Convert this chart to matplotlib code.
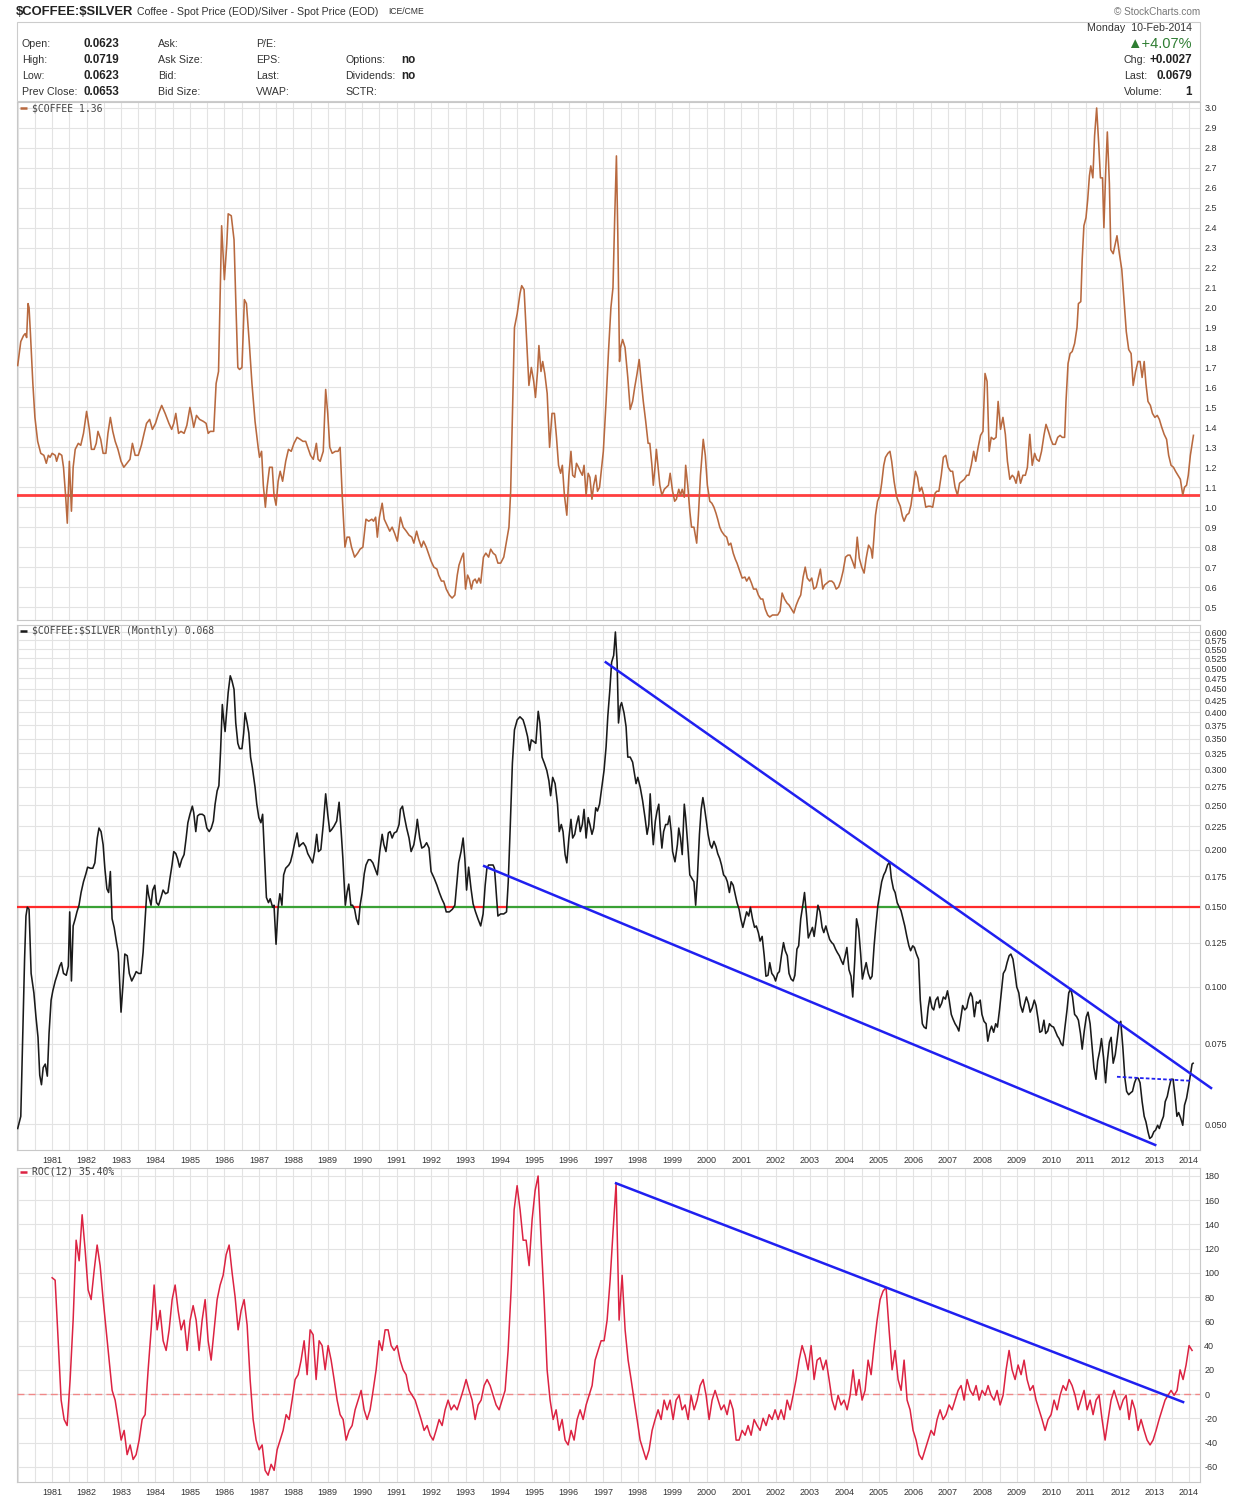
import numpy as np
import matplotlib
matplotlib.use("Agg")
import matplotlib.pyplot as plt
from matplotlib.collections import LineCollection
from matplotlib.patches import Rectangle
from matplotlib.ticker import NullLocator

plt.rcParams["font.family"] = ["Liberation Sans", "DejaVu Sans"]

# ── Data (monthly) ────────────────────────────────────────────────────────────
# $COFFEE spot, (year, price)
COFFEE = [
    (1980.00, 1.71), (1980.09, 1.83), (1980.17, 1.86), (1980.22, 1.87), (1980.26, 1.85), (1980.30, 2.02), (1980.33, 2.00),
    (1980.37, 1.87), (1980.44, 1.62), (1980.50, 1.45), (1980.58, 1.33), (1980.67, 1.27), (1980.76, 1.26), (1980.83, 1.22),
    (1980.89, 1.26), (1980.94, 1.25),
    (1981.00, 1.27), (1981.09, 1.26), (1981.13, 1.23), (1981.20, 1.27), (1981.28, 1.26), (1981.33, 1.20), (1981.39, 1.06),
    (1981.44, 0.92), (1981.50, 1.23), (1981.56, 0.98), (1981.61, 1.20), (1981.67, 1.29), (1981.76, 1.32), (1981.83, 1.31),
    (1981.91, 1.37),
    (1982.00, 1.48), (1982.08, 1.39), (1982.14, 1.29), (1982.22, 1.29), (1982.28, 1.32), (1982.33, 1.38), (1982.41, 1.34),
    (1982.48, 1.27), (1982.56, 1.27), (1982.62, 1.37), (1982.69, 1.45), (1982.76, 1.38), (1982.83, 1.33), (1982.91, 1.29),
    (1983.00, 1.23), (1983.08, 1.20), (1983.17, 1.22), (1983.26, 1.24), (1983.33, 1.32), (1983.41, 1.26), (1983.50, 1.26),
    (1983.59, 1.31), (1983.67, 1.37), (1983.74, 1.42), (1983.83, 1.44), (1983.91, 1.39),
    (1984.00, 1.42), (1984.09, 1.47), (1984.18, 1.51), (1984.28, 1.47), (1984.39, 1.42), (1984.47, 1.39), (1984.53, 1.42),
    (1984.59, 1.47), (1984.67, 1.37), (1984.74, 1.38), (1984.83, 1.37), (1984.91, 1.41),
    (1985.00, 1.50), (1985.06, 1.45), (1985.11, 1.40), (1985.19, 1.46), (1985.28, 1.44), (1985.39, 1.43), (1985.47, 1.42),
    (1985.53, 1.37), (1985.59, 1.38), (1985.69, 1.38), (1985.76, 1.62), (1985.83, 1.68), (1985.92, 2.41),
    (1986.00, 2.14), (1986.07, 2.32), (1986.11, 2.47), (1986.20, 2.46), (1986.28, 2.34), (1986.33, 2.04), (1986.39, 1.70),
    (1986.44, 1.69), (1986.51, 1.70), (1986.58, 2.04), (1986.64, 2.02), (1986.72, 1.83), (1986.80, 1.62), (1986.89, 1.43),
    (1986.98, 1.30),
    (1987.02, 1.25), (1987.08, 1.28), (1987.13, 1.11), (1987.19, 1.00), (1987.24, 1.10), (1987.31, 1.20), (1987.39, 1.20),
    (1987.44, 1.06), (1987.50, 1.01), (1987.56, 1.13), (1987.62, 1.18), (1987.69, 1.13), (1987.78, 1.23), (1987.86, 1.29),
    (1987.94, 1.28),
    (1988.02, 1.32), (1988.11, 1.35), (1988.20, 1.34), (1988.28, 1.33), (1988.36, 1.33), (1988.42, 1.30), (1988.50, 1.26),
    (1988.58, 1.24), (1988.67, 1.32), (1988.72, 1.24), (1988.78, 1.23), (1988.87, 1.28), (1988.94, 1.59),
    (1989.00, 1.47), (1989.06, 1.30), (1989.13, 1.27), (1989.22, 1.28), (1989.30, 1.28), (1989.36, 1.30), (1989.42, 1.06),
    (1989.50, 0.80), (1989.56, 0.85), (1989.63, 0.85), (1989.69, 0.80), (1989.78, 0.75), (1989.87, 0.77), (1989.94, 0.79),
    (1990.02, 0.80), (1990.11, 0.94), (1990.19, 0.93), (1990.28, 0.94), (1990.33, 0.93), (1990.39, 0.95), (1990.44, 0.85),
    (1990.50, 0.95), (1990.58, 1.02), (1990.64, 0.94), (1990.72, 0.91), (1990.80, 0.88), (1990.87, 0.90), (1990.94, 0.87),
    (1991.02, 0.83), (1991.11, 0.95), (1991.19, 0.90), (1991.28, 0.88), (1991.36, 0.86), (1991.44, 0.85), (1991.50, 0.82),
    (1991.58, 0.88), (1991.64, 0.84), (1991.72, 0.80), (1991.78, 0.83), (1991.86, 0.80), (1991.94, 0.76),
    (1992.00, 0.73), (1992.08, 0.70), (1992.17, 0.69), (1992.22, 0.66), (1992.30, 0.63), (1992.37, 0.63), (1992.44, 0.59),
    (1992.53, 0.56), (1992.61, 0.545), (1992.69, 0.56), (1992.76, 0.66), (1992.81, 0.71), (1992.89, 0.75), (1992.94, 0.77),
    (1993.00, 0.59), (1993.06, 0.66), (1993.11, 0.64), (1993.17, 0.59), (1993.22, 0.63), (1993.28, 0.64), (1993.33, 0.62),
    (1993.39, 0.645), (1993.44, 0.62), (1993.52, 0.75), (1993.59, 0.77), (1993.67, 0.75), (1993.73, 0.79), (1993.80, 0.77),
    (1993.87, 0.76), (1993.94, 0.72),
    (1994.02, 0.72), (1994.11, 0.75), (1994.19, 0.83), (1994.26, 0.90), (1994.31, 1.08), (1994.37, 1.53), (1994.42, 1.90),
    (1994.50, 1.97), (1994.58, 2.07), (1994.63, 2.11), (1994.70, 2.09), (1994.78, 1.82), (1994.84, 1.61), (1994.91, 1.70),
    (1994.98, 1.63),
    (1995.03, 1.55), (1995.09, 1.68), (1995.13, 1.81), (1995.19, 1.68), (1995.24, 1.73), (1995.30, 1.67), (1995.37, 1.57),
    (1995.44, 1.30), (1995.51, 1.47), (1995.58, 1.47), (1995.64, 1.35), (1995.70, 1.21), (1995.76, 1.17), (1995.81, 1.21),
    (1995.87, 1.06), (1995.94, 0.96),
    (1996.00, 1.16), (1996.06, 1.28), (1996.11, 1.16), (1996.17, 1.15), (1996.22, 1.22), (1996.28, 1.20), (1996.33, 1.18),
    (1996.39, 1.16), (1996.44, 1.21), (1996.50, 1.06), (1996.56, 1.17), (1996.61, 1.15), (1996.67, 1.04), (1996.72, 1.11),
    (1996.78, 1.16), (1996.83, 1.08), (1996.89, 1.10),
    (1997.00, 1.28), (1997.08, 1.53), (1997.15, 1.78), (1997.22, 2.00), (1997.28, 2.10), (1997.33, 2.45), (1997.38, 2.76),
    (1997.42, 2.37), (1997.47, 1.73), (1997.50, 1.80), (1997.56, 1.84), (1997.63, 1.80), (1997.71, 1.65), (1997.78, 1.49),
    (1997.85, 1.53), (1997.91, 1.60), (1997.98, 1.67),
    (1998.04, 1.74), (1998.09, 1.65), (1998.16, 1.53), (1998.23, 1.43), (1998.30, 1.32), (1998.35, 1.32), (1998.41, 1.21),
    (1998.45, 1.11), (1998.50, 1.20), (1998.54, 1.29), (1998.59, 1.20), (1998.64, 1.11), (1998.70, 1.06), (1998.77, 1.09),
    (1998.83, 1.10), (1998.89, 1.11), (1998.94, 1.17),
    (1999.01, 1.08), (1999.07, 1.03), (1999.12, 1.04), (1999.19, 1.09), (1999.24, 1.06), (1999.29, 1.09), (1999.35, 1.05),
    (1999.39, 1.21), (1999.45, 1.11), (1999.51, 0.98), (1999.56, 0.90), (1999.63, 0.90), (1999.71, 0.82), (1999.76, 0.96),
    (1999.82, 1.16), (1999.90, 1.34), (1999.96, 1.26),
    (2000.02, 1.11), (2000.09, 1.03), (2000.15, 1.02), (2000.21, 1.00), (2000.27, 0.97), (2000.32, 0.94), (2000.38, 0.90),
    (2000.43, 0.88), (2000.51, 0.86), (2000.58, 0.85), (2000.64, 0.81), (2000.70, 0.82), (2000.77, 0.77), (2000.83, 0.74),
    (2000.88, 0.72), (2000.96, 0.68),
    (2001.03, 0.645), (2001.11, 0.65), (2001.16, 0.63), (2001.23, 0.65), (2001.30, 0.62), (2001.36, 0.59), (2001.44, 0.59),
    (2001.50, 0.56), (2001.57, 0.54), (2001.63, 0.54), (2001.70, 0.49), (2001.77, 0.46), (2001.83, 0.45), (2001.91, 0.46),
    (2001.99, 0.46),
    (2002.06, 0.46), (2002.13, 0.48), (2002.19, 0.57), (2002.26, 0.54), (2002.33, 0.52), (2002.39, 0.51), (2002.46, 0.49),
    (2002.53, 0.47), (2002.60, 0.51), (2002.67, 0.54), (2002.73, 0.56), (2002.80, 0.65), (2002.86, 0.70), (2002.92, 0.645),
    (2002.99, 0.63),
    (2003.05, 0.645), (2003.11, 0.59), (2003.18, 0.60), (2003.24, 0.645), (2003.30, 0.69), (2003.37, 0.59), (2003.42, 0.61),
    (2003.49, 0.62), (2003.56, 0.63), (2003.63, 0.63), (2003.69, 0.62), (2003.76, 0.59), (2003.83, 0.60), (2003.89, 0.63),
    (2003.96, 0.68),
    (2004.03, 0.75), (2004.10, 0.76), (2004.16, 0.76), (2004.23, 0.73), (2004.30, 0.695), (2004.37, 0.85), (2004.43, 0.745),
    (2004.50, 0.70), (2004.57, 0.67), (2004.63, 0.745), (2004.70, 0.81), (2004.77, 0.79), (2004.81, 0.745), (2004.86, 0.86),
    (2004.90, 0.96), (2004.96, 1.03),
    (2005.03, 1.06), (2005.08, 1.12), (2005.14, 1.21), (2005.19, 1.25), (2005.26, 1.27), (2005.32, 1.28), (2005.37, 1.23),
    (2005.44, 1.13), (2005.51, 1.055), (2005.56, 1.03), (2005.62, 1.005), (2005.68, 0.955), (2005.73, 0.93), (2005.80, 0.96),
    (2005.87, 0.97), (2005.93, 1.01),
    (2006.00, 1.10), (2006.06, 1.18), (2006.12, 1.15), (2006.18, 1.08), (2006.24, 1.10), (2006.30, 1.06), (2006.36, 1.00),
    (2006.43, 1.005), (2006.49, 1.005), (2006.56, 1.00), (2006.63, 1.07), (2006.68, 1.08), (2006.74, 1.08), (2006.81, 1.16),
    (2006.87, 1.25), (2006.94, 1.26),
    (2007.01, 1.20), (2007.08, 1.18), (2007.14, 1.18), (2007.21, 1.10), (2007.28, 1.06), (2007.34, 1.12), (2007.41, 1.13),
    (2007.48, 1.14), (2007.55, 1.16), (2007.61, 1.16), (2007.68, 1.21), (2007.75, 1.28), (2007.81, 1.23), (2007.88, 1.30),
    (2007.95, 1.36),
    (2008.02, 1.38), (2008.08, 1.67), (2008.14, 1.63), (2008.20, 1.28), (2008.26, 1.35), (2008.33, 1.34), (2008.40, 1.35),
    (2008.46, 1.53), (2008.53, 1.39), (2008.60, 1.45), (2008.67, 1.365), (2008.73, 1.23), (2008.80, 1.14), (2008.87, 1.16),
    (2008.92, 1.15), (2008.98, 1.12),
    (2009.05, 1.18), (2009.11, 1.12), (2009.18, 1.16), (2009.25, 1.16), (2009.31, 1.20), (2009.38, 1.365), (2009.45, 1.21),
    (2009.52, 1.27), (2009.58, 1.24), (2009.65, 1.23), (2009.72, 1.28), (2009.79, 1.36), (2009.85, 1.415), (2009.92, 1.38),
    (2009.99, 1.34),
    (2010.05, 1.315), (2010.12, 1.315), (2010.19, 1.35), (2010.26, 1.36), (2010.32, 1.35), (2010.39, 1.35), (2010.43, 1.53),
    (2010.49, 1.72), (2010.55, 1.77), (2010.61, 1.78), (2010.68, 1.82), (2010.75, 1.90), (2010.79, 2.02), (2010.86, 2.03),
    (2010.90, 2.24), (2010.95, 2.41),
    (2011.01, 2.45), (2011.06, 2.54), (2011.11, 2.66), (2011.15, 2.71), (2011.21, 2.65), (2011.26, 2.86), (2011.32, 3.00),
    (2011.38, 2.82), (2011.43, 2.65), (2011.49, 2.65), (2011.53, 2.40), (2011.58, 2.67), (2011.63, 2.88), (2011.69, 2.62),
    (2011.73, 2.29), (2011.80, 2.27), (2011.86, 2.32), (2011.91, 2.36), (2011.98, 2.27),
    (2012.05, 2.19), (2012.11, 2.05), (2012.18, 1.88), (2012.25, 1.79), (2012.32, 1.77), (2012.38, 1.61), (2012.45, 1.68),
    (2012.52, 1.73), (2012.58, 1.73), (2012.64, 1.65), (2012.70, 1.73), (2012.75, 1.62), (2012.81, 1.53), (2012.88, 1.51),
    (2012.94, 1.47),
    (2013.01, 1.45), (2013.08, 1.46), (2013.14, 1.44), (2013.21, 1.40), (2013.28, 1.365), (2013.35, 1.34), (2013.41, 1.26),
    (2013.48, 1.21), (2013.55, 1.20), (2013.61, 1.18), (2013.68, 1.16), (2013.75, 1.14), (2013.82, 1.06), (2013.87, 1.10),
    (2013.93, 1.11), (2013.98, 1.16),
    (2014.04, 1.26), (2014.13, 1.36),
]

# $COFFEE:$SILVER ratio, (year, ratio) - log panel
RATIO = [
    (1980.00, 0.0489), (1980.09, 0.052), (1980.14, 0.075), (1980.20, 0.115), (1980.24, 0.143), (1980.28, 0.1495),
    (1980.33, 0.148), (1980.39, 0.107), (1980.47, 0.097), (1980.53, 0.086), (1980.59, 0.0775), (1980.64, 0.064),
    (1980.69, 0.061), (1980.74, 0.0665), (1980.80, 0.0677), (1980.86, 0.0637), (1980.91, 0.079), (1980.97, 0.0935),
    (1981.02, 0.098), (1981.09, 0.103), (1981.16, 0.107), (1981.22, 0.111), (1981.27, 0.113), (1981.33, 0.107),
    (1981.41, 0.106), (1981.47, 0.111), (1981.51, 0.146), (1981.56, 0.103), (1981.61, 0.136), (1981.67, 0.141),
    (1981.72, 0.146), (1981.78, 0.151), (1981.84, 0.161), (1981.91, 0.170), (1981.98, 0.177),
    (1982.03, 0.183), (1982.11, 0.182), (1982.18, 0.182), (1982.24, 0.187), (1982.31, 0.212), (1982.36, 0.223),
    (1982.42, 0.219), (1982.48, 0.205), (1982.53, 0.182), (1982.59, 0.164), (1982.64, 0.161), (1982.69, 0.179),
    (1982.74, 0.141), (1982.80, 0.135), (1982.87, 0.125), (1982.92, 0.119),
    (1983.00, 0.088), (1983.06, 0.102), (1983.11, 0.118), (1983.18, 0.117), (1983.24, 0.107), (1983.31, 0.103),
    (1983.38, 0.1055), (1983.44, 0.108), (1983.51, 0.107), (1983.58, 0.107), (1983.64, 0.119), (1983.70, 0.141),
    (1983.76, 0.167), (1983.80, 0.159), (1983.87, 0.151), (1983.92, 0.163), (1983.98, 0.167),
    (1984.03, 0.153), (1984.09, 0.151), (1984.16, 0.157), (1984.22, 0.163), (1984.29, 0.160), (1984.36, 0.161),
    (1984.42, 0.173), (1984.48, 0.185), (1984.53, 0.198), (1984.59, 0.196), (1984.64, 0.191), (1984.70, 0.183),
    (1984.76, 0.190), (1984.83, 0.195), (1984.89, 0.212), (1984.94, 0.229),
    (1985.00, 0.239), (1985.07, 0.249), (1985.11, 0.241), (1985.17, 0.219), (1985.22, 0.237), (1985.28, 0.239),
    (1985.36, 0.239), (1985.42, 0.237), (1985.49, 0.223), (1985.56, 0.219), (1985.62, 0.223), (1985.68, 0.231),
    (1985.73, 0.2515), (1985.79, 0.269), (1985.84, 0.276), (1985.89, 0.330), (1985.94, 0.416), (1985.98, 0.385),
    (1986.02, 0.363), (1986.07, 0.405), (1986.11, 0.442), (1986.17, 0.481), (1986.22, 0.469), (1986.28, 0.449),
    (1986.33, 0.379), (1986.39, 0.342), (1986.44, 0.333), (1986.51, 0.333), (1986.56, 0.360), (1986.60, 0.399),
    (1986.66, 0.379), (1986.71, 0.360), (1986.76, 0.319), (1986.81, 0.303), (1986.89, 0.274), (1986.94, 0.2515),
    (1987.00, 0.235), (1987.06, 0.229), (1987.11, 0.239), (1987.17, 0.191), (1987.22, 0.157), (1987.28, 0.153),
    (1987.33, 0.156), (1987.40, 0.1495), (1987.44, 0.151), (1987.50, 0.124), (1987.56, 0.1495), (1987.61, 0.160),
    (1987.67, 0.151), (1987.72, 0.176), (1987.78, 0.182), (1987.87, 0.185), (1987.92, 0.188), (1987.98, 0.196),
    (1988.03, 0.205), (1988.11, 0.2175), (1988.17, 0.203), (1988.22, 0.205), (1988.29, 0.207), (1988.36, 0.203),
    (1988.42, 0.196), (1988.50, 0.191), (1988.56, 0.187), (1988.62, 0.198), (1988.68, 0.216), (1988.73, 0.198),
    (1988.80, 0.200), (1988.87, 0.227), (1988.94, 0.265),
    (1989.00, 0.239), (1989.06, 0.219), (1989.11, 0.221), (1989.18, 0.225), (1989.26, 0.231), (1989.33, 0.254),
    (1989.39, 0.219), (1989.44, 0.191), (1989.51, 0.151), (1989.56, 0.161), (1989.61, 0.168), (1989.67, 0.151),
    (1989.72, 0.151), (1989.78, 0.148), (1989.83, 0.141), (1989.89, 0.137), (1989.94, 0.151),
    (1990.00, 0.161), (1990.06, 0.177), (1990.11, 0.185), (1990.18, 0.190), (1990.24, 0.190), (1990.31, 0.187),
    (1990.39, 0.180), (1990.44, 0.176), (1990.51, 0.198), (1990.58, 0.216), (1990.63, 0.205), (1990.69, 0.198),
    (1990.76, 0.2175), (1990.81, 0.219), (1990.87, 0.212), (1990.93, 0.2175),
    (1991.00, 0.219), (1991.07, 0.227), (1991.11, 0.245), (1991.17, 0.249), (1991.22, 0.237), (1991.29, 0.223),
    (1991.36, 0.212), (1991.42, 0.198), (1991.50, 0.205), (1991.56, 0.219), (1991.60, 0.233), (1991.67, 0.212),
    (1991.73, 0.2015), (1991.80, 0.203), (1991.87, 0.207), (1991.94, 0.2015),
    (1992.00, 0.179), (1992.09, 0.173), (1992.17, 0.167), (1992.24, 0.161), (1992.31, 0.156), (1992.38, 0.152),
    (1992.44, 0.146), (1992.53, 0.146), (1992.62, 0.148), (1992.69, 0.151), (1992.76, 0.173), (1992.80, 0.187),
    (1992.87, 0.198), (1992.93, 0.212), (1992.98, 0.191),
    (1993.03, 0.163), (1993.09, 0.183), (1993.16, 0.164), (1993.22, 0.152), (1993.29, 0.146), (1993.36, 0.141),
    (1993.44, 0.136), (1993.51, 0.1445), (1993.57, 0.167), (1993.62, 0.182), (1993.67, 0.185), (1993.73, 0.185),
    (1993.80, 0.185), (1993.84, 0.182), (1993.89, 0.161), (1993.94, 0.143),
    (1994.02, 0.1445), (1994.11, 0.1445), (1994.19, 0.146), (1994.24, 0.170), (1994.30, 0.227), (1994.36, 0.309),
    (1994.42, 0.366), (1994.50, 0.385), (1994.58, 0.391), (1994.67, 0.385), (1994.73, 0.372), (1994.80, 0.354),
    (1994.86, 0.330), (1994.91, 0.348), (1994.98, 0.345),
    (1995.04, 0.342), (1995.11, 0.402), (1995.16, 0.379), (1995.22, 0.319), (1995.29, 0.309), (1995.36, 0.298),
    (1995.42, 0.283), (1995.47, 0.2625), (1995.53, 0.288), (1995.60, 0.279), (1995.67, 0.2515), (1995.72, 0.219),
    (1995.78, 0.227), (1995.83, 0.219), (1995.89, 0.195), (1995.94, 0.187),
    (1996.00, 0.212), (1996.06, 0.233), (1996.11, 0.212), (1996.17, 0.216), (1996.22, 0.227), (1996.28, 0.237),
    (1996.33, 0.219), (1996.39, 0.227), (1996.44, 0.245), (1996.50, 0.212), (1996.56, 0.235), (1996.61, 0.227),
    (1996.67, 0.216), (1996.72, 0.223), (1996.78, 0.247), (1996.83, 0.243), (1996.89, 0.2515),
    (1997.02, 0.298), (1997.08, 0.336), (1997.13, 0.392), (1997.19, 0.449), (1997.24, 0.515), (1997.30, 0.533),
    (1997.35, 0.600), (1997.40, 0.515), (1997.44, 0.379), (1997.49, 0.4125), (1997.53, 0.420), (1997.60, 0.399),
    (1997.66, 0.372), (1997.71, 0.319), (1997.78, 0.319), (1997.85, 0.311), (1997.89, 0.298), (1997.95, 0.279),
    (1998.00, 0.288), (1998.07, 0.274), (1998.14, 0.256), (1998.21, 0.235), (1998.27, 0.216), (1998.32, 0.227),
    (1998.36, 0.265), (1998.41, 0.227), (1998.45, 0.205), (1998.51, 0.231), (1998.56, 0.243), (1998.61, 0.2515),
    (1998.65, 0.223), (1998.70, 0.2015), (1998.75, 0.219), (1998.81, 0.227), (1998.87, 0.227), (1998.92, 0.237),
    (1998.97, 0.219),
    (1999.01, 0.198), (1999.08, 0.188), (1999.15, 0.205), (1999.19, 0.223), (1999.24, 0.212), (1999.29, 0.195),
    (1999.35, 0.2515), (1999.39, 0.235), (1999.45, 0.205), (1999.51, 0.176), (1999.57, 0.173), (1999.63, 0.170),
    (1999.68, 0.151), (1999.73, 0.173), (1999.79, 0.216), (1999.84, 0.245), (1999.89, 0.260), (1999.93, 0.249),
    (1999.99, 0.231),
    (2000.04, 0.216), (2000.10, 0.205), (2000.15, 0.2015), (2000.21, 0.2085), (2000.27, 0.203), (2000.32, 0.196),
    (2000.38, 0.191), (2000.43, 0.185), (2000.49, 0.176), (2000.55, 0.174), (2000.60, 0.170), (2000.66, 0.161),
    (2000.71, 0.170), (2000.77, 0.167), (2000.83, 0.159), (2000.88, 0.153), (2000.94, 0.148), (2000.99, 0.141),
    (2001.05, 0.135), (2001.11, 0.141), (2001.16, 0.146), (2001.22, 0.143), (2001.27, 0.1495), (2001.33, 0.141),
    (2001.39, 0.135), (2001.44, 0.136), (2001.50, 0.1315), (2001.55, 0.126), (2001.61, 0.129), (2001.67, 0.117),
    (2001.72, 0.1055), (2001.78, 0.106), (2001.83, 0.113), (2001.89, 0.107), (2001.95, 0.1055),
    (2002.00, 0.103), (2002.06, 0.107), (2002.11, 0.108), (2002.17, 0.117), (2002.23, 0.125), (2002.28, 0.120),
    (2002.34, 0.117), (2002.39, 0.107), (2002.45, 0.104), (2002.51, 0.103), (2002.56, 0.106), (2002.62, 0.121),
    (2002.67, 0.123), (2002.73, 0.141), (2002.79, 0.151), (2002.84, 0.161), (2002.90, 0.143), (2002.95, 0.128),
    (2003.01, 0.1315), (2003.07, 0.135), (2003.12, 0.129), (2003.18, 0.140), (2003.23, 0.151), (2003.29, 0.146),
    (2003.35, 0.135), (2003.40, 0.1315), (2003.46, 0.136), (2003.51, 0.1315), (2003.57, 0.127), (2003.63, 0.125),
    (2003.68, 0.124), (2003.74, 0.121), (2003.79, 0.119), (2003.85, 0.117), (2003.91, 0.114), (2003.96, 0.112),
    (2004.02, 0.117), (2004.07, 0.122), (2004.13, 0.109), (2004.19, 0.1055), (2004.24, 0.095), (2004.30, 0.115),
    (2004.35, 0.141), (2004.41, 0.134), (2004.47, 0.118), (2004.52, 0.104), (2004.58, 0.109), (2004.63, 0.113),
    (2004.69, 0.107), (2004.75, 0.104), (2004.80, 0.1055), (2004.86, 0.123), (2004.91, 0.136), (2004.97, 0.151),
    (2005.03, 0.161), (2005.08, 0.170), (2005.14, 0.176), (2005.19, 0.179), (2005.25, 0.185), (2005.31, 0.188),
    (2005.36, 0.173), (2005.42, 0.164), (2005.47, 0.161), (2005.53, 0.153), (2005.59, 0.1495), (2005.64, 0.147),
    (2005.70, 0.141), (2005.75, 0.136), (2005.81, 0.129), (2005.87, 0.123), (2005.92, 0.120), (2005.98, 0.123),
    (2006.03, 0.122), (2006.09, 0.118), (2006.15, 0.115), (2006.20, 0.0935), (2006.26, 0.083), (2006.31, 0.0816),
    (2006.37, 0.081), (2006.43, 0.090), (2006.48, 0.095), (2006.54, 0.090), (2006.59, 0.089), (2006.65, 0.0935),
    (2006.71, 0.095), (2006.76, 0.090), (2006.82, 0.092), (2006.87, 0.095), (2006.93, 0.094), (2006.99, 0.098),
    (2007.04, 0.0935), (2007.10, 0.087), (2007.15, 0.085), (2007.21, 0.083), (2007.27, 0.0816), (2007.32, 0.080),
    (2007.38, 0.086), (2007.43, 0.091), (2007.49, 0.089), (2007.55, 0.090), (2007.60, 0.094), (2007.66, 0.097),
    (2007.71, 0.095), (2007.77, 0.086), (2007.83, 0.0927), (2007.88, 0.092), (2007.94, 0.0935), (2007.99, 0.087),
    (2008.05, 0.084), (2008.11, 0.083), (2008.16, 0.076), (2008.22, 0.080), (2008.27, 0.082), (2008.33, 0.0795),
    (2008.39, 0.083), (2008.44, 0.0816), (2008.50, 0.089), (2008.55, 0.097), (2008.61, 0.107), (2008.67, 0.109),
    (2008.72, 0.113), (2008.78, 0.117), (2008.83, 0.118), (2008.89, 0.115), (2008.95, 0.107),
    (2009.00, 0.100), (2009.06, 0.097), (2009.11, 0.091), (2009.17, 0.088), (2009.23, 0.092), (2009.28, 0.095),
    (2009.34, 0.092), (2009.39, 0.088), (2009.45, 0.090), (2009.51, 0.0935), (2009.56, 0.091), (2009.62, 0.085),
    (2009.67, 0.0795), (2009.73, 0.080), (2009.79, 0.0845), (2009.84, 0.079), (2009.90, 0.080), (2009.95, 0.083),
    (2010.01, 0.082), (2010.07, 0.0816), (2010.12, 0.080), (2010.18, 0.078), (2010.23, 0.077), (2010.29, 0.075),
    (2010.34, 0.0743), (2010.40, 0.0816), (2010.46, 0.089), (2010.51, 0.097), (2010.57, 0.099), (2010.62, 0.095),
    (2010.68, 0.087), (2010.74, 0.086), (2010.79, 0.0845), (2010.85, 0.079), (2010.90, 0.073), (2010.96, 0.080),
    (2011.02, 0.086), (2011.07, 0.088), (2011.13, 0.083), (2011.18, 0.075), (2011.24, 0.0665), (2011.30, 0.0627),
    (2011.35, 0.0688), (2011.41, 0.0724), (2011.46, 0.077), (2011.52, 0.070), (2011.58, 0.0616), (2011.63, 0.0688),
    (2011.69, 0.0756), (2011.74, 0.0775), (2011.80, 0.068), (2011.86, 0.071), (2011.91, 0.076), (2011.97, 0.083),
    (2012.02, 0.084), (2012.08, 0.0737), (2012.14, 0.063), (2012.19, 0.059), (2012.25, 0.058), (2012.30, 0.0585),
    (2012.36, 0.059), (2012.42, 0.0616), (2012.47, 0.063), (2012.53, 0.063), (2012.58, 0.0616), (2012.64, 0.056),
    (2012.70, 0.052), (2012.75, 0.0506), (2012.81, 0.0481), (2012.86, 0.0465), (2012.92, 0.0469), (2012.98, 0.0481),
    (2013.03, 0.0485), (2013.09, 0.0497), (2013.14, 0.0489), (2013.20, 0.0506), (2013.26, 0.052), (2013.31, 0.056),
    (2013.37, 0.0575), (2013.42, 0.060), (2013.48, 0.0627), (2013.54, 0.0627), (2013.59, 0.058), (2013.65, 0.052),
    (2013.70, 0.053), (2013.76, 0.0515), (2013.82, 0.0497), (2013.87, 0.055), (2013.93, 0.057), (2013.99, 0.0606),
    (2014.04, 0.064), (2014.09, 0.0677), (2014.12, 0.068),
]

# ROC(12) of the ratio, one reading per month from Jan 1981 to Feb 2014 (%)
ROC12 = [
    96, 94, 44, -5, -21, -26, 12, 61, 127, 110, 148, 119, 86, 78, 102, 123, 106, 78, 53, 28,
    3, -5, -21, -38, -30, -50, -42, -54, -50, -38, -21, -17, 20, 53, 90, 53, 69, 44, 36, 53,
    78, 90, 69, 53, 61, 36, 61, 73, 61, 36, 61, 78, 44, 28, 53, 78, 90, 98, 115, 123,
    100, 80, 53, 69, 78, 57, 12, -21, -38, -46, -42, -63, -67, -58, -63, -46, -38, -30, -17, -21,
    -5, 12, 16, 28, 44, 16, 53, 49, 12, 44, 40, 20, 40, 28, 12, -5, -17, -21, -38, -30,
    -26, -13, -5, 3, -13, -21, -13, 3, 20, 44, 36, 53, 53, 40, 36, 40, 28, 20, 16, 3,
    -1, -5, -13, -21, -30, -26, -34, -38, -30, -21, -26, -13, -5, -13, -9, -13, -5, 3, 12, 3,
    -5, -21, -9, -5, 7, 12, 7, -1, -9, -13, -5, 3, 36, 86, 152, 172, 152, 127, 127, 106,
    144, 168, 180, 127, 78, 20, -5, -21, -13, -30, -21, -38, -42, -30, -38, -21, -13, -21, -9, -1,
    7, 28, 36, 44, 44, 61, 94, 135, 174, 61, 98, 53, 28, 12, -5, -21, -38, -46, -54, -46,
    -30, -21, -13, -21, -5, -13, -5, -21, -5, -1, -13, -9, -21, -1, -13, -5, 7, 12, -1, -21,
    -5, 3, -5, -13, -9, -17, -5, -13, -38, -38, -30, -34, -26, -34, -21, -26, -30, -20, -26, -17,
    -21, -13, -21, -13, -21, -5, -13, -1, 12, 28, 40, 32, 20, 40, 12, 28, 30, 20, 28, 12,
    -5, -13, -1, -9, -5, -13, -1, 20, -1, 12, -5, 3, 28, 16, 40, 61, 78, 85, 88, 53,
    20, 36, 12, 3, 28, -5, -13, -30, -38, -50, -54, -46, -38, -30, -34, -21, -13, -21, -17, -9,
    -13, -5, 3, 7, -5, 12, 3, -1, 7, -5, 3, -1, 7, -1, -5, 3, -9, -1, 20, 36,
    20, 12, 24, 16, 28, 12, 3, 7, -5, -13, -21, -30, -21, -17, -5, -13, -1, 7, 3, 12,
    7, -1, -13, -5, 3, -13, -5, -17, -5, -1, -21, -38, -21, -5, 3, -5, -13, -5, -1, -21,
    -5, -13, -30, -21, -30, -38, -42, -38, -30, -21, -13, -5, -1, 3, -1, 3, 20, 12, 24, 40,
    36,
]
ROC_FIRST, ROC_LAST = 1981.0, 2014.09

# Annotations drawn on the chart
COFFEE_LEVEL = 1.06
RATIO_LEVEL = 0.15
RATIO_UPPER = [(1997.07, 0.515), (2014.64, 0.0600)]
RATIO_LOWER = [(1993.54, 0.184), (2013.02, 0.045)]
RATIO_NECK = [(2011.91, 0.0635), (2014.09, 0.0622)]
ROC_TREND = [(1997.37, 174.0), (2013.83, -6.6)]

COFFEE_TICKS = [round(0.5 + 0.1 * i, 1) for i in range(26)]
RATIO_TICKS = [round(0.05 + 0.025 * i, 3) for i in range(23)]
ROC_TICKS = list(range(-60, 181, 20))

HEADER_COLS = [
    [("Open:", "0.0623"), ("High:", "0.0719"), ("Low:", "0.0623"), ("Prev Close:", "0.0653")],
    [("Ask:", ""), ("Ask Size:", ""), ("Bid:", ""), ("Bid Size:", "")],
    [("P/E:", ""), ("EPS:", ""), ("Last:", ""), ("VWAP:", "")],
    [("", ""), ("Options:", "no"), ("Dividends:", "no"), ("SCTR:", "")],
]
HEADER_RIGHT = [("Chg:", "+0.0027"), ("Last:", "0.0679"), ("Volume:", "1")]

# ── Colours ─────────────────────────────────────────────────────────────────
C_COFFEE = "#b8693f"
C_RATIO = "#1a1a1a"
C_ROC = "#dc2342"
C_RED = "#ff2a2a"
C_GREEN = "#3aa135"
C_BLUE = "#2020f0"
C_GRID = "#e3e3e3"
C_TXT = "#333333"

W, H = 1247, 1500
XMIN, XMAX = 1979.98, 2014.32
X0, X1 = 17, 1200

fig = plt.figure(figsize=(W / 100, H / 100), dpi=100)


def panel(top, bottom):
    return fig.add_axes([X0 / W, 1 - bottom / H, (X1 - X0) / W, (bottom - top) / H])


def style(ax, yticks, fmt, show_years):
    ax.set_xlim(XMIN, XMAX)
    half = [1980 + 0.5 * i for i in range(69)]
    ax.set_xticks(half)
    ax.set_xticklabels([str(int(t)) if show_years and t % 1 == 0 and t >= 1981 else "" for t in half])
    ax.set_yticks(yticks)
    ax.set_yticklabels([fmt.format(v) for v in yticks])
    ax.yaxis.set_minor_locator(NullLocator())
    ax.xaxis.set_minor_locator(NullLocator())
    ax.yaxis.tick_right()
    ax.tick_params(axis="both", length=0, labelsize=6.5, labelcolor=C_TXT)
    ax.tick_params(axis="y", pad=3)
    ax.tick_params(axis="x", pad=4)
    ax.grid(True, color=C_GRID, lw=0.8)
    ax.set_axisbelow(True)
    for s in ax.spines.values():
        s.set_color("#c8c8c8")
        s.set_linewidth(0.8)


def legend_tag(ax, text, color):
    ax.plot([0.0025, 0.0085], [0.988, 0.988], transform=ax.transAxes, color=color, lw=1.8,
            solid_capstyle="butt", clip_on=False)
    ax.text(0.0125, 0.988, text, transform=ax.transAxes, fontsize=7.0, color="#444444",
            family="DejaVu Sans Mono", va="center", ha="left")


coffee_t, coffee_v = np.array(COFFEE).T
ratio_t, ratio_v = np.array(RATIO).T
roc_t = np.linspace(ROC_FIRST, ROC_LAST, len(ROC12))

# ── Panel 1: coffee ─────────────────────────────────────────────────────────
ax1 = panel(102, 620)
ax1.set_ylim(0.435, 3.03)
style(ax1, COFFEE_TICKS, "{:.1f}", False)
ax1.axhline(COFFEE_LEVEL, color=C_RED, lw=2.0, alpha=0.9, zorder=3)
ax1.plot(coffee_t, coffee_v, color=C_COFFEE, lw=1.15, zorder=4)
legend_tag(ax1, r"\$COFFEE 1.36", C_COFFEE)

# ── Panel 2: coffee / silver (log) ──────────────────────────────────────────
ax2 = panel(625, 1150)
ax2.set_yscale("log")
ax2.set_ylim(0.04387, 0.6216)
style(ax2, RATIO_TICKS, "{:.3f}", True)

# level line: green where the ratio sits above it, red where below
xs = np.linspace(XMIN, XMAX, 3000)
above = np.interp(xs, ratio_t, np.log10(ratio_v)) >= np.log10(RATIO_LEVEL)
segs = [[(xs[i], RATIO_LEVEL), (xs[i + 1], RATIO_LEVEL)] for i in range(len(xs) - 1)]
cols = [C_GREEN if a else C_RED for a in above[:-1]]
ax2.add_collection(LineCollection(segs, colors=cols, linewidths=1.6, zorder=3))

ax2.plot(ratio_t, ratio_v, color=C_RATIO, lw=1.15, zorder=4)
for line in (RATIO_UPPER, RATIO_LOWER):
    (xa, ya), (xb, yb) = line
    ax2.plot([xa, xb], [ya, yb], color=C_BLUE, lw=1.8, zorder=5, clip_on=False)
(xa, ya), (xb, yb) = RATIO_NECK
ax2.plot([xa, xb], [ya, yb], color=C_BLUE, lw=1.3, ls=(0, (2, 1.2)), zorder=5)
legend_tag(ax2, r"\$COFFEE:\$SILVER (Monthly) 0.068", C_RATIO)

# ── Panel 3: ROC(12) ────────────────────────────────────────────────────────
ax3 = panel(1168, 1482)
ax3.set_ylim(-72.6, 186.6)
style(ax3, ROC_TICKS, "{:d}", True)
ax3.axhline(0, color="#f08888", lw=1.0, ls=(0, (5, 3)), zorder=3)
ax3.plot(roc_t, ROC12, color=C_ROC, lw=1.1, zorder=4)
(xa, ya), (xb, yb) = ROC_TREND
ax3.plot([xa, xb], [ya, yb], color=C_BLUE, lw=1.8, zorder=5)
legend_tag(ax3, "ROC(12) 35.40%", C_ROC)

# ── Header block ────────────────────────────────────────────────────────────
def ftxt(x, y, s, **kw):
    kw.setdefault("fontsize", 7.7)
    kw.setdefault("color", C_TXT)
    fig.text(x / W, 1 - y / H, s, va="center", **kw)


fig.add_artist(Rectangle((X0 / W, 1 - 101 / H), (X1 - X0) / W, 79 / H, transform=fig.transFigure,
                         fill=False, ec="#cccccc", lw=0.8))
ftxt(16, 12, r"\$COFFEE:\$SILVER", fontsize=9.4, weight="bold", color="#222222")
ftxt(137, 12, "Coffee - Spot Price (EOD)/Silver - Spot Price (EOD)", fontsize=7.6)
ftxt(388, 12, "ICE/CME", fontsize=6.2)
ftxt(1200, 12, "\u00a9 StockCharts.com", fontsize=7.2, color="#777777", ha="right")

col_x = [(22, 83), (158, None), (256, None), (345, 401)]
rows_y = [44, 60, 76, 92]
for (lx, vx), col in zip(col_x, HEADER_COLS):
    for y, (lab, val) in zip(rows_y, col):
        if lab:
            ftxt(lx, y, lab)
        if val and vx is not None:
            ftxt(vx, y, val, weight="bold", color="#222222", fontsize=8.4)

ftxt(1192, 28, "Monday  10-Feb-2014", ha="right")
ftxt(1192, 44, "\u25b2+4.07%", ha="right", fontsize=10.5, color="#2e7d32")
for y, (lab, val) in zip(rows_y[1:], HEADER_RIGHT):
    ftxt(1124, y, lab, ha="left")
    ftxt(1192, y, val, ha="right", weight="bold", color="#222222", fontsize=8.4)

fig.savefig("out.png", dpi=100, facecolor="white")
